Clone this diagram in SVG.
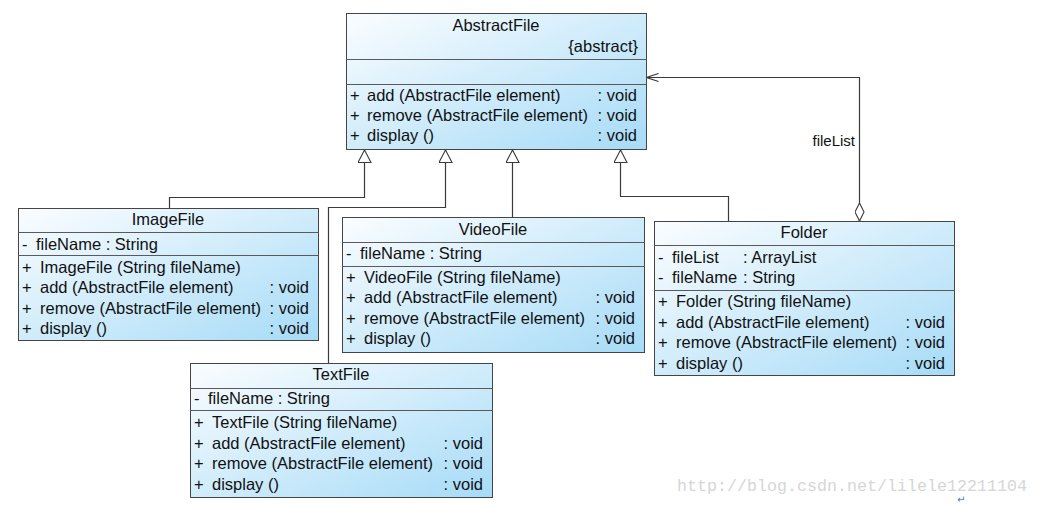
<svg xmlns="http://www.w3.org/2000/svg" width="1038" height="505" viewBox="0 0 1038 505">
<style>
.box{fill:url(#g);stroke:#454545;stroke-width:1}
.sep{stroke:#5a5a5a;stroke-width:1}
.t{font-family:"Liberation Sans",Arial,sans-serif;font-size:16.5px;fill:#111}
.c{text-anchor:middle}
.r{text-anchor:end}
.conn{fill:none;stroke:#3a3a3a;stroke-width:1.2}
.lbl{font-family:"Liberation Sans",Arial,sans-serif;font-size:15px;fill:#111;text-anchor:end}
.wm{font-family:"Liberation Mono","DejaVu Sans Mono",monospace;font-size:16.5px;fill:#d6d6d6}
</style>
<defs>
<linearGradient id="g" x1="0" y1="0" x2="1" y2="1">
<stop offset="0" stop-color="#fbfdff"/>
<stop offset="1" stop-color="#a6dbf7"/>
</linearGradient>
<marker id="tri" viewBox="0 0 14 14" refX="14" refY="7" markerWidth="14" markerHeight="14" markerUnits="userSpaceOnUse" orient="auto">
<path d="M1,0.5 L13.5,7 L1,13.5 Z" fill="#fff" stroke="#3a3a3a" stroke-width="1.1"/>
</marker>
<marker id="open" viewBox="0 0 14 10" refX="13" refY="5" markerWidth="14" markerHeight="10" markerUnits="userSpaceOnUse" orient="auto">
<path d="M1,1 L13,5 L1,9" fill="none" stroke="#3a3a3a" stroke-width="1.1"/>
</marker>
<marker id="dia" viewBox="0 0 20 10" refX="0.5" refY="5" markerWidth="20" markerHeight="10" markerUnits="userSpaceOnUse" orient="auto">
<path d="M0.5,5 L9.5,0.5 L18.5,5 L9.5,9.5 Z" fill="#fff" stroke="#3a3a3a" stroke-width="1.1"/>
</marker>
</defs>
<rect width="1038" height="505" fill="#fff"/>

<g id="connectors">
<path class="conn" d="M169.5,208 V197.5 H364.5 V149.5" marker-end="url(#tri)"/>
<path class="conn" d="M328.5,363 V207.5 H445.5 V149.5" marker-end="url(#tri)"/>
<path class="conn" d="M512.5,217 V149.5" marker-end="url(#tri)"/>
<path class="conn" d="M728.5,221 V196.5 H620.5 V149.5" marker-end="url(#tri)"/>
<path class="conn" d="M859.5,221 V77.5 H646.5" marker-start="url(#dia)" marker-end="url(#open)"/>
<text class="lbl" x="855" y="146">fileList</text>
</g>

<g id="AbstractFile">
<rect class="box" x="346.5" y="13.5" width="300" height="136"/>
<line class="sep" x1="346.5" y1="59.5" x2="646.5" y2="59.5"/>
<line class="sep" x1="346.5" y1="84.5" x2="646.5" y2="84.5"/>
<text class="t c" x="496" y="31">AbstractFile</text>
<text class="t r" x="638" y="52">{abstract}</text>
<text class="t" x="350" y="101">+</text><text class="t" x="367" y="101">add (AbstractFile element)</text><text class="t r" x="637" y="101">: void</text>
<text class="t" x="350" y="121">+</text><text class="t" x="367" y="121">remove (AbstractFile element)</text><text class="t r" x="637" y="121">: void</text>
<text class="t" x="350" y="141">+</text><text class="t" x="367" y="141">display ()</text><text class="t r" x="637" y="141">: void</text>
</g>

<g id="ImageFile">
<rect class="box" x="18.5" y="208.5" width="300" height="132"/>
<line class="sep" x1="18.5" y1="232.5" x2="318.5" y2="232.5"/>
<line class="sep" x1="18.5" y1="255.5" x2="318.5" y2="255.5"/>
<text class="t c" x="168" y="225">ImageFile</text>
<text class="t" x="22" y="250">-</text><text class="t" x="36" y="250">fileName : String</text>
<text class="t" x="22" y="273">+</text><text class="t" x="40" y="273">ImageFile (String fileName)</text>
<text class="t" x="22" y="293">+</text><text class="t" x="40" y="293">add (AbstractFile element)</text><text class="t r" x="309" y="293">: void</text>
<text class="t" x="22" y="314">+</text><text class="t" x="40" y="314">remove (AbstractFile element)</text><text class="t r" x="309" y="314">: void</text>
<text class="t" x="22" y="334">+</text><text class="t" x="40" y="334">display ()</text><text class="t r" x="309" y="334">: void</text>
</g>

<g id="VideoFile">
<rect class="box" x="342.5" y="217.5" width="302" height="135"/>
<line class="sep" x1="342.5" y1="242.5" x2="644.5" y2="242.5"/>
<line class="sep" x1="342.5" y1="266.5" x2="644.5" y2="266.5"/>
<text class="t c" x="493" y="235">VideoFile</text>
<text class="t" x="346" y="259">-</text><text class="t" x="360" y="259">fileName : String</text>
<text class="t" x="346" y="283">+</text><text class="t" x="364" y="283">VideoFile (String fileName)</text>
<text class="t" x="346" y="303">+</text><text class="t" x="364" y="303">add (AbstractFile element)</text><text class="t r" x="635" y="303">: void</text>
<text class="t" x="346" y="324">+</text><text class="t" x="364" y="324">remove (AbstractFile element)</text><text class="t r" x="635" y="324">: void</text>
<text class="t" x="346" y="344">+</text><text class="t" x="364" y="344">display ()</text><text class="t r" x="635" y="344">: void</text>
</g>

<g id="Folder">
<rect class="box" x="654.5" y="221.5" width="300" height="154"/>
<line class="sep" x1="654.5" y1="245.5" x2="954.5" y2="245.5"/>
<line class="sep" x1="654.5" y1="290.5" x2="954.5" y2="290.5"/>
<text class="t c" x="804" y="238">Folder</text>
<text class="t" x="658" y="263">-</text><text class="t" x="672" y="263">fileList</text><text class="t" x="743" y="263">: ArrayList</text>
<text class="t" x="658" y="283">-</text><text class="t" x="672" y="283">fileName</text><text class="t" x="743" y="283">: String</text>
<text class="t" x="658" y="307">+</text><text class="t" x="676" y="307">Folder (String fileName)</text>
<text class="t" x="658" y="328">+</text><text class="t" x="676" y="328">add (AbstractFile element)</text><text class="t r" x="945" y="328">: void</text>
<text class="t" x="658" y="348">+</text><text class="t" x="676" y="348">remove (AbstractFile element)</text><text class="t r" x="945" y="348">: void</text>
<text class="t" x="658" y="369">+</text><text class="t" x="676" y="369">display ()</text><text class="t r" x="945" y="369">: void</text>
</g>

<g id="TextFile">
<rect class="box" x="190.5" y="363.5" width="302" height="134"/>
<line class="sep" x1="190.5" y1="388.5" x2="492.5" y2="388.5"/>
<line class="sep" x1="190.5" y1="410.5" x2="492.5" y2="410.5"/>
<text class="t c" x="341" y="380">TextFile</text>
<text class="t" x="194" y="404">-</text><text class="t" x="208" y="404">fileName : String</text>
<text class="t" x="194" y="428">+</text><text class="t" x="212" y="428">TextFile (String fileName)</text>
<text class="t" x="194" y="449">+</text><text class="t" x="212" y="449">add (AbstractFile element)</text><text class="t r" x="483" y="449">: void</text>
<text class="t" x="194" y="469">+</text><text class="t" x="212" y="469">remove (AbstractFile element)</text><text class="t r" x="483" y="469">: void</text>
<text class="t" x="194" y="490">+</text><text class="t" x="212" y="490">display ()</text><text class="t r" x="483" y="490">: void</text>
</g>

<text class="wm" x="677" y="491" textLength="350" lengthAdjust="spacingAndGlyphs">http://blog.csdn.net/lilele12211104</text>
<text x="957" y="503" font-family="DejaVu Sans,sans-serif" font-size="10" fill="#3b7ddd">↵</text>
</svg>
